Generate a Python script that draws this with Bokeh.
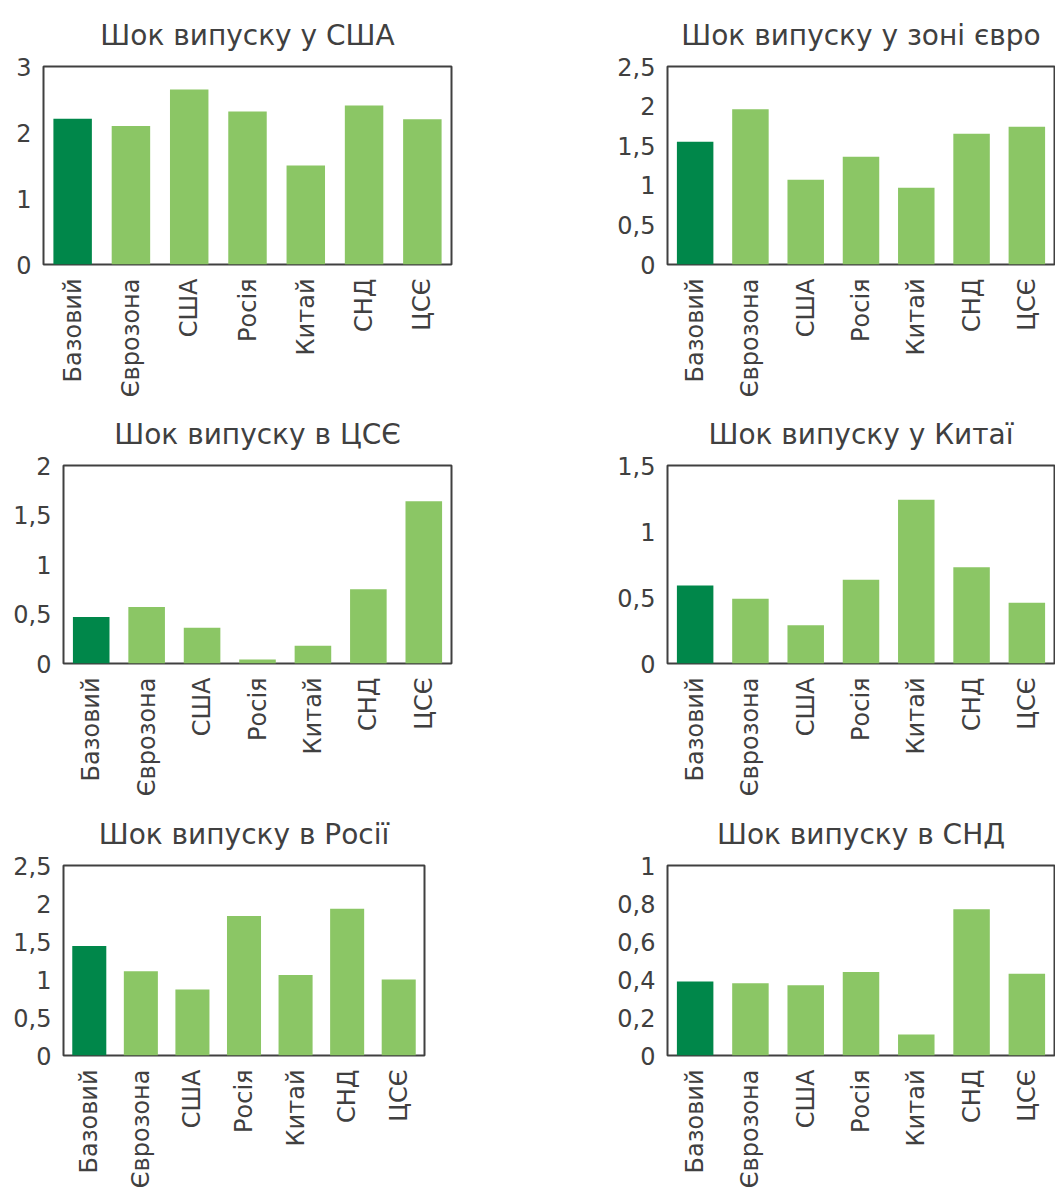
import math

from bokeh.embed import file_html
from bokeh.layouts import column, row
from bokeh.models import ColumnDataSource, CustomJSTickFormatter, FactorRange, FixedTicker, Range1d
from bokeh.plotting import figure
from bokeh.resources import INLINE

# Regions receiving the shock (same order in every panel)
categories = ["Базовий", "Єврозона", "США", "Росія", "Китай", "СНД", "ЦСЄ"]

# Output response in each scenario
shock_usa = [2.21, 2.10, 2.65, 2.32, 1.50, 2.41, 2.20]
shock_euro = [1.55, 1.96, 1.07, 1.36, 0.97, 1.65, 1.74]
shock_cee = [0.47, 0.57, 0.36, 0.04, 0.18, 0.75, 1.64]
shock_china = [0.59, 0.49, 0.29, 0.635, 1.24, 0.73, 0.46]
shock_russia = [1.44, 1.11, 0.87, 1.835, 1.06, 1.93, 1.00]
shock_cis = [0.39, 0.38, 0.37, 0.44, 0.11, 0.77, 0.43]

titles = [
    "Шок випуску у США",
    "Шок випуску у зоні євро",
    "Шок випуску в ЦСЄ",
    "Шок випуску у Китаї",
    "Шок випуску в Росії",
    "Шок випуску в СНД",
]

y_ticks = [
    [0, 1, 2, 3],
    [0, 0.5, 1, 1.5, 2, 2.5],
    [0, 0.5, 1, 1.5, 2],
    [0, 0.5, 1, 1.5],
    [0, 0.5, 1, 1.5, 2, 2.5],
    [0, 0.2, 0.4, 0.6, 0.8, 1],
]

DARK = "#00874A"
LIGHT = "#8BC665"
TEXT = "#404040"
FONT = "DejaVu Sans"


def panel(title, values, ticks, width, height, borders):
    left, right, top, bottom = borders
    colors = [DARK] + [LIGHT] * (len(values) - 1)
    src = ColumnDataSource(dict(cat=categories, val=values, color=colors))
    p = figure(
        width=width,
        height=height,
        x_range=FactorRange(*categories, range_padding=0),
        y_range=Range1d(0, ticks[-1]),
        output_backend="svg",
        toolbar_location=None,
        min_border_left=left,
        min_border_right=right,
        min_border_top=top,
        min_border_bottom=bottom,
    )
    p.vbar(x="cat", top="val", width=0.66, color="color", line_color=None, source=src)

    p.title.text = title
    p.title.align = "center"
    p.title.text_font = FONT
    p.title.text_font_size = "28px"
    p.title.text_font_style = "normal"
    p.title.text_color = TEXT
    p.title.standoff = 30

    p.outline_line_color = TEXT
    p.outline_line_width = 2
    p.grid.visible = False
    p.background_fill_color = "white"
    p.border_fill_color = "white"

    for ax in (p.xaxis, p.yaxis):
        ax.axis_line_color = None
        ax.major_tick_line_color = None
        ax.minor_tick_line_color = None
        ax.major_tick_out = 0
        ax.major_tick_in = 0
        ax.major_label_text_font = FONT
        ax.major_label_text_color = TEXT

    p.yaxis.ticker = FixedTicker(ticks=ticks)
    p.yaxis.formatter = CustomJSTickFormatter(
        code="return (Math.round(tick * 10) / 10).toString().replace('.', ',');"
    )
    p.yaxis.major_label_text_font_size = "24px"
    p.yaxis.major_label_standoff = 12

    p.xaxis.major_label_orientation = math.pi / 2
    p.xaxis.major_label_text_font_size = "24px"
    p.xaxis.major_label_standoff = 14
    return p


all_values = [shock_usa, shock_euro, shock_cee, shock_china, shock_russia, shock_cis]
sizes = [
    (590, 400, (43, 139, 66, 135)),
    (465, 400, (77, 1, 66, 135)),
    (590, 400, (63, 139, 63, 137)),
    (465, 400, (77, 1, 63, 137)),
    (590, 391, (63, 166, 61, 136)),
    (465, 391, (77, 1, 61, 131)),
]

plots = [
    panel(t, v, tk, w, h, b)
    for t, v, tk, (w, h, b) in zip(titles, all_values, y_ticks, sizes)
]

layout = column(
    row(plots[0], plots[1], spacing=0),
    row(plots[2], plots[3], spacing=0),
    row(plots[4], plots[5], spacing=0),
    spacing=0,
)

open("out.html", "w").write(file_html(layout, INLINE))
